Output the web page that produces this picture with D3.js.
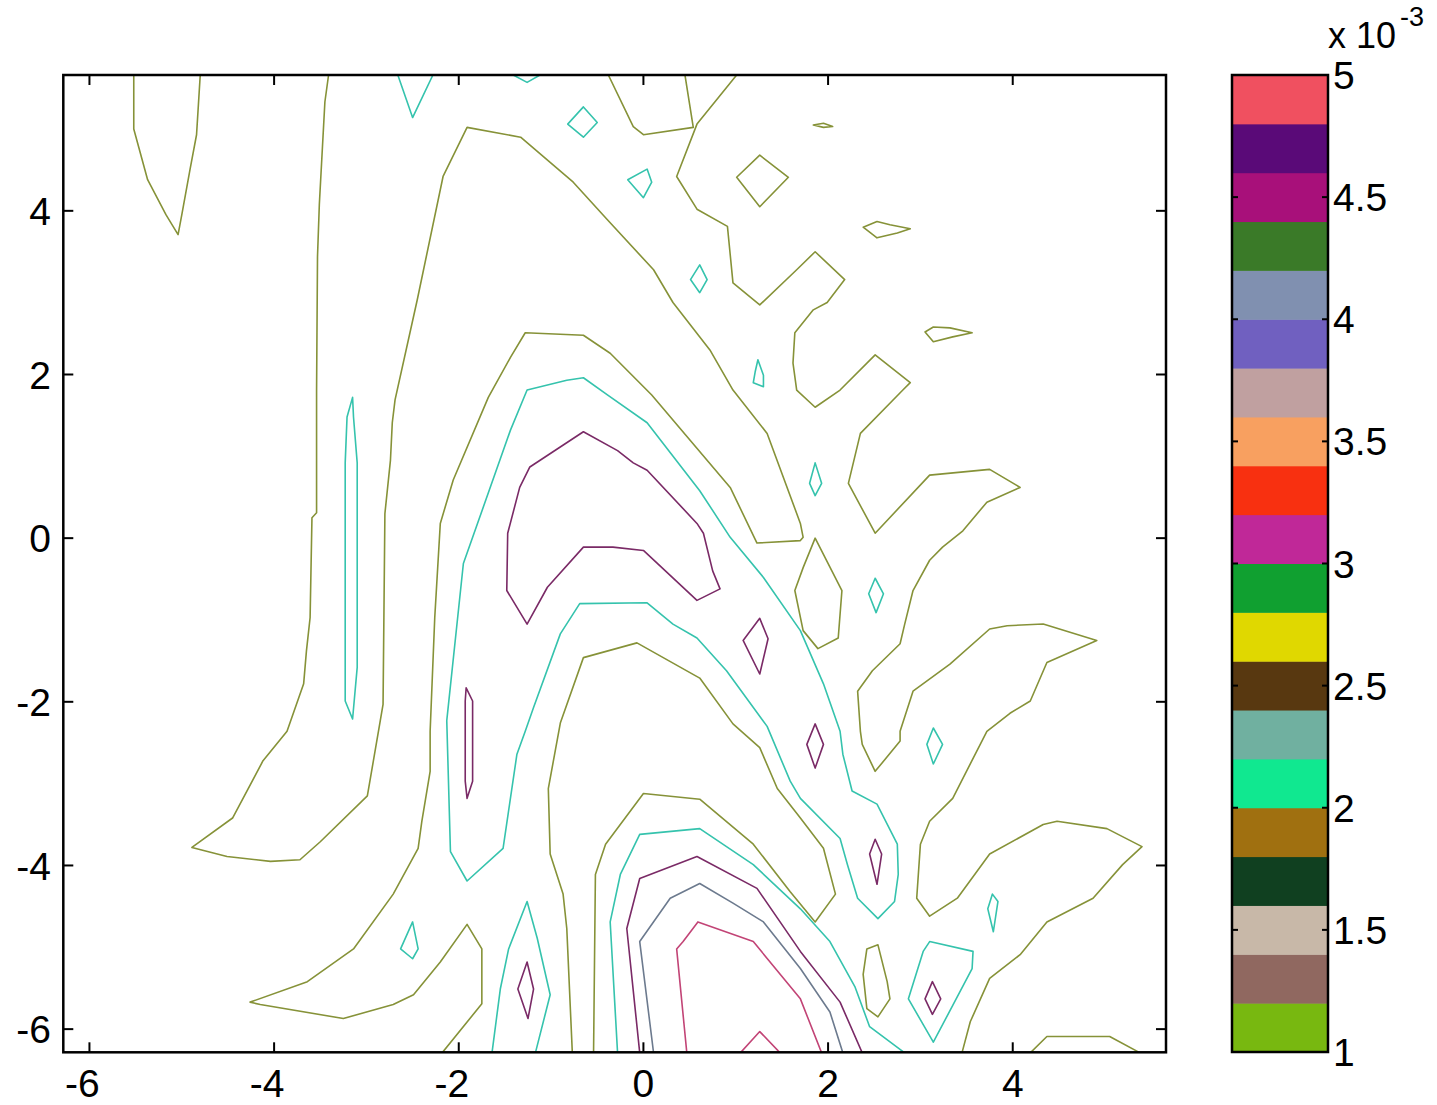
<!DOCTYPE html>
<html>
<head>
<meta charset="utf-8">
<script src="https://cdn.jsdelivr.net/npm/d3@7"></script>
<style>
  html, body { margin: 0; padding: 0; background: #ffffff; }
  svg { display: block; }
  text { font-family: "Liberation Sans", Arial, sans-serif; fill: #000; }
</style>
</head>
<body>
<svg id="chart" width="1437" height="1105"></svg>
<script>
// ---------------- data ----------------
const xDomain = [-2 * Math.PI, 5.66];
const yDomain = [-2 * Math.PI, 5.66];
const xTicks = [-6, -4, -2, 0, 2, 4];
const yTicks = [-6, -4, -2, 0, 2, 4];
const cbDomain = [1, 5];
const cbTicks = [1, 1.5, 2, 2.5, 3, 3.5, 4, 4.5, 5];
const cbExponent = "-3";
// colour bands from 1 (bottom) to 5 (top), step 0.2
const cbColors = ["#78b810","#906860","#c8b8a8","#104020","#a07010","#10e890","#70b0a0","#583810",
                  "#e0d800","#10a030","#c02898","#f83010","#f8a060","#c0a0a0","#7060c0","#8090b0",
                  "#3a7a28","#a8107a","#5a0a78","#f05060"];

// contour lines (data units), open = ends on the frame, loops = closed
const oliveOpen = [
  [[-5.52,5.66],[-5.52,5.00],[-5.37,4.38],[-5.17,3.95],[-5.04,3.71],[-5.00,3.95],[-4.91,4.51],[-4.84,4.93],[-4.80,5.66]],
  [[-3.41,5.66],[-3.45,5.33],[-3.51,4.08],[-3.53,3.44],[-3.54,1.81],[-3.54,0.31],[-3.59,0.25],[-3.61,-0.97],[-3.65,-1.38],[-3.68,-1.78],[-3.86,-2.36],[-4.12,-2.72],[-4.45,-3.42],[-4.89,-3.78],[-4.51,-3.89],[-4.04,-3.95],[-3.72,-3.93],[-3.50,-3.71],[-2.99,-3.15],[-2.85,-2.23],[-2.82,-2.03],[-2.80,0.30],[-2.74,0.95],[-2.72,1.41],[-2.69,1.69],[-2.45,2.91],[-2.17,4.42],[-1.91,5.02],[-1.33,4.90],[-0.76,4.35],[-0.39,3.89],[0.11,3.28],[0.32,2.88],[0.72,2.30],[0.97,1.81],[1.34,1.28],[1.70,0.18],[1.73,0.01],[1.70,-0.03],[1.23,-0.06],[0.94,0.62],[0.09,1.75],[-0.36,2.26],[-0.65,2.48],[-1.28,2.51],[-1.44,2.21],[-1.68,1.72],[-2.06,0.71],[-2.20,0.18],[-2.26,-0.97],[-2.31,-2.36],[-2.31,-2.85],[-2.40,-3.46],[-2.44,-3.79],[-2.71,-4.35],[-3.14,-5.02],[-3.64,-5.42],[-4.26,-5.67],[-4.15,-5.70],[-3.25,-5.87],[-2.71,-5.70],[-2.49,-5.58],[-2.20,-5.18],[-1.91,-4.72],[-1.75,-5.02],[-1.75,-5.69],[-2.18,-6.29]],
  [[1.01,5.66],[0.58,5.06],[0.36,4.42],[0.58,4.02],[0.91,3.81],[0.97,3.12],[1.26,2.85],[1.66,3.28],[1.86,3.50],[2.18,3.16],[1.99,2.88],[1.84,2.79],[1.64,2.51],[1.62,2.14],[1.66,1.81],[1.86,1.60],[2.13,1.81],[2.51,2.24],[2.89,1.90],[2.81,1.81],[2.35,1.28],[2.22,0.67],[2.51,0.06],[3.10,0.77],[3.75,0.84],[4.08,0.62],[3.72,0.44],[3.46,0.09],[3.24,-0.11],[3.10,-0.27],[2.92,-0.64],[2.83,-1.05],[2.78,-1.29],[2.48,-1.62],[2.32,-1.87],[2.35,-2.36],[2.37,-2.52],[2.51,-2.85],[2.78,-2.48],[2.78,-2.36],[2.92,-1.87],[3.32,-1.54],[3.75,-1.11],[3.94,-1.07],[4.33,-1.05],[4.91,-1.25],[4.37,-1.52],[4.19,-1.99],[3.97,-2.14],[3.72,-2.36],[3.35,-3.18],[3.10,-3.46],[3.00,-3.74],[2.96,-4.40],[3.10,-4.62],[3.40,-4.40],[3.75,-3.86],[4.33,-3.50],[4.48,-3.46],[5.02,-3.55],[5.40,-3.77],[5.19,-3.99],[4.87,-4.40],[4.37,-4.69],[4.08,-5.09],[3.75,-5.38],[3.54,-5.91],[3.45,-6.29]],
  [[-0.38,5.66],[-0.11,5.03],[0.00,4.93],[0.54,5.02],[0.45,5.66]],
  [[-0.77,-6.29],[-0.83,-4.77],[-0.87,-4.35],[-1.01,-3.86],[-1.03,-3.06],[-0.90,-2.26],[-0.65,-1.46],[-0.07,-1.28],[0.61,-1.71],[0.97,-2.27],[1.26,-2.56],[1.45,-3.06],[1.70,-3.42],[1.95,-3.79],[2.08,-4.35],[1.86,-4.69],[1.59,-4.32],[1.19,-3.74],[0.61,-3.19],[0.00,-3.12],[-0.41,-3.74],[-0.52,-4.11],[-0.54,-6.29]],
  [[4.19,-6.29],[4.37,-6.09],[5.05,-6.09],[5.38,-6.29]]
];
const oliveLoops = [
  [[1.01,4.41],[1.26,4.68],[1.57,4.41],[1.26,4.05]],
  [[1.84,5.05],[1.95,5.07],[2.05,5.03],[1.95,5.02]],
  [[2.38,3.80],[2.53,3.87],[2.67,3.83],[2.89,3.78],[2.75,3.73],[2.53,3.67]],
  [[3.05,2.52],[3.14,2.58],[3.32,2.57],[3.56,2.51],[3.35,2.46],[3.14,2.40]],
  [[1.86,0.00],[2.15,-0.64],[2.11,-1.22],[1.89,-1.35],[1.73,-1.13],[1.64,-0.64],[1.73,-0.36]],
  [[2.42,-5.02],[2.54,-4.97],[2.64,-5.42],[2.67,-5.63],[2.54,-5.85],[2.42,-5.75],[2.38,-5.33]]
];
const cyanOpen = [
  [[-2.66,5.66],[-2.50,5.14],[-2.28,5.66]],
  [[-1.41,5.66],[-1.26,5.57],[-1.12,5.66]],
  [[-1.64,-6.29],[-1.55,-5.51],[-1.46,-5.02],[-1.26,-4.44],[-1.15,-4.89],[-1.01,-5.58],[-1.17,-6.29]],
  [[-0.28,-6.29],[-0.36,-4.69],[-0.25,-4.11],[-0.04,-3.62],[0.61,-3.55],[1.19,-3.99],[1.70,-4.53],[2.02,-4.93],[2.29,-5.48],[2.45,-5.97],[2.83,-6.29]]
];
const cyanLoops = [
  [[-0.82,5.06],[-0.65,5.27],[-0.50,5.08],[-0.65,4.90]],
  [[-0.17,4.38],[0.04,4.51],[0.09,4.35],[0.00,4.16]],
  [[0.51,3.16],[0.61,3.34],[0.69,3.16],[0.61,3.00]],
  [[1.24,2.18],[1.30,1.99],[1.30,1.85],[1.19,1.90],[1.21,2.03]],
  [[-3.15,1.72],[-3.21,1.48],[-3.23,0.92],[-3.23,-1.99],[-3.15,-2.21],[-3.10,-1.58],[-3.10,0.92],[-3.14,1.48]],
  [[1.86,0.92],[1.80,0.67],[1.86,0.52],[1.93,0.67]],
  [[2.51,-0.49],[2.44,-0.68],[2.52,-0.91],[2.60,-0.68]],
  [[-2.13,-2.23],[-1.95,-0.31],[-1.44,1.32],[-1.26,1.81],[-0.83,1.93],[-0.65,1.96],[-0.39,1.75],[0.04,1.41],[0.61,0.58],[0.94,0.01],[1.30,-0.48],[1.70,-1.13],[1.95,-1.78],[2.13,-2.36],[2.16,-2.64],[2.26,-3.09],[2.53,-3.25],[2.75,-3.74],[2.76,-4.11],[2.72,-4.44],[2.54,-4.65],[2.32,-4.40],[2.21,-3.99],[2.13,-3.67],[1.70,-3.18],[1.59,-2.97],[1.34,-2.30],[0.90,-1.62],[0.58,-1.22],[0.32,-1.05],[0.04,-0.79],[-0.69,-0.80],[-0.90,-1.17],[-1.19,-2.07],[-1.28,-2.36],[-1.37,-2.64],[-1.52,-3.79],[-1.91,-4.19],[-2.09,-3.83]],
  [[-2.50,-4.69],[-2.63,-5.02],[-2.50,-5.14],[-2.44,-5.02]],
  [[3.10,-4.93],[3.57,-5.05],[3.56,-5.26],[3.14,-6.16],[2.87,-5.63],[3.03,-5.05]],
  [[3.78,-4.35],[3.84,-4.44],[3.79,-4.81],[3.73,-4.53]],
  [[3.14,-2.32],[3.24,-2.52],[3.14,-2.76],[3.07,-2.52]]
];
const purpleOpen = [
  [[-0.04,-6.29],[-0.18,-4.77],[-0.04,-4.16],[0.58,-3.89],[1.23,-4.28],[1.70,-5.05],[2.13,-5.67],[2.37,-6.29]]
];
const purpleLoops = [
  [[-0.65,1.30],[-1.23,0.87],[-1.34,0.62],[-1.47,0.06],[-1.48,-0.64],[-1.26,-1.05],[-1.04,-0.60],[-0.65,-0.11],[-0.33,-0.11],[0.00,-0.15],[0.58,-0.76],[0.83,-0.62],[0.75,-0.40],[0.65,0.06],[0.58,0.18],[0.04,0.83],[-0.11,0.92],[-0.28,1.07]],
  [[1.26,-0.98],[1.35,-1.23],[1.26,-1.66],[1.08,-1.25]],
  [[-1.92,-1.83],[-1.85,-1.99],[-1.85,-2.97],[-1.91,-3.18],[-1.93,-2.97],[-1.93,-1.99]],
  [[1.86,-2.27],[1.95,-2.52],[1.86,-2.81],[1.77,-2.52]],
  [[2.51,-3.68],[2.58,-3.86],[2.53,-4.23],[2.45,-3.86]],
  [[-1.26,-5.18],[-1.19,-5.51],[-1.25,-5.87],[-1.36,-5.51]],
  [[3.13,-5.42],[3.22,-5.63],[3.13,-5.82],[3.05,-5.63]]
];
const greyOpen = [
  [[0.11,-6.29],[-0.04,-4.93],[0.29,-4.40],[0.61,-4.22],[0.97,-4.46],[1.30,-4.69],[1.70,-5.26],[2.02,-5.79],[2.16,-6.29]]
];
const pinkOpen = [
  [[0.47,-6.29],[0.36,-5.02],[0.43,-4.93],[0.59,-4.69],[1.19,-4.93],[1.70,-5.63],[1.93,-6.29]],
  [[1.05,-6.29],[1.26,-6.03],[1.48,-6.29]]
];

const lineStyles = [
  {open: oliveOpen,  loops: oliveLoops,  color: "#869238"},
  {open: cyanOpen,   loops: cyanLoops,   color: "#35c3ad"},
  {open: purpleOpen, loops: purpleLoops, color: "#7a2a66"},
  {open: greyOpen,   loops: [],          color: "#6c7a8e"},
  {open: pinkOpen,   loops: [],          color: "#c24476"}
];

// ---------------- layout ----------------
const svg = d3.select("#chart");
const plot = {left: 63.3, right: 1166, top: 75, bottom: 1052.3};
const cb = {left: 1232, right: 1328, top: 75, bottom: 1052};

const x = d3.scaleLinear().domain(xDomain).range([plot.left, plot.right]);
const y = d3.scaleLinear().domain(yDomain).range([plot.bottom, plot.top]);

svg.append("defs").append("clipPath").attr("id", "clip")
  .append("rect").attr("x", plot.left).attr("y", plot.top)
  .attr("width", plot.right - plot.left).attr("height", plot.bottom - plot.top);

const g = svg.append("g").attr("clip-path", "url(#clip)");
const lineOpen = d3.line().x(d => x(d[0])).y(d => y(d[1]));
const lineClosed = d3.line().x(d => x(d[0])).y(d => y(d[1])).curve(d3.curveLinearClosed);

lineStyles.forEach(s => {
  g.selectAll(null).data(s.open).enter().append("path")
    .attr("d", lineOpen).attr("fill", "none").attr("stroke", s.color)
    .attr("stroke-width", 1.6).attr("stroke-linejoin", "round");
  g.selectAll(null).data(s.loops).enter().append("path")
    .attr("d", lineClosed).attr("fill", "none").attr("stroke", s.color)
    .attr("stroke-width", 1.6).attr("stroke-linejoin", "round");
});

// frame
svg.append("rect").attr("x", plot.left).attr("y", plot.top)
  .attr("width", plot.right - plot.left).attr("height", plot.bottom - plot.top)
  .attr("fill", "none").attr("stroke", "#000").attr("stroke-width", 2.5);

const tickLen = 10;
const fontSize = 39;
// x ticks (bottom and top, inward)
xTicks.forEach(t => {
  const px = x(t);
  svg.append("line").attr("x1", px).attr("x2", px).attr("y1", plot.bottom).attr("y2", plot.bottom - tickLen)
    .attr("stroke", "#000").attr("stroke-width", 2);
  svg.append("line").attr("x1", px).attr("x2", px).attr("y1", plot.top).attr("y2", plot.top + tickLen)
    .attr("stroke", "#000").attr("stroke-width", 2);
  svg.append("text").attr("x", px).attr("y", plot.bottom + 45)
    .attr("dx", t < 0 ? -7 : 0)
    .attr("text-anchor", "middle").attr("font-size", fontSize).text(t);
});
yTicks.forEach(t => {
  const py = y(t);
  svg.append("line").attr("x1", plot.left).attr("x2", plot.left + tickLen).attr("y1", py).attr("y2", py)
    .attr("stroke", "#000").attr("stroke-width", 2);
  svg.append("line").attr("x1", plot.right).attr("x2", plot.right - tickLen).attr("y1", py).attr("y2", py)
    .attr("stroke", "#000").attr("stroke-width", 2);
  svg.append("text").attr("x", 51).attr("y", py).attr("dy", "0.36em")
    .attr("text-anchor", "end").attr("font-size", fontSize).text(t);
});

// ---------------- colour bar ----------------
const cbY = d3.scaleLinear().domain(cbDomain).range([cb.bottom, cb.top]);
const step = (cbDomain[1] - cbDomain[0]) / cbColors.length;
svg.append("g").selectAll("rect").data(cbColors).enter().append("rect")
  .attr("x", cb.left).attr("width", cb.right - cb.left)
  .attr("y", (c, i) => cbY(cbDomain[0] + (i + 1) * step))
  .attr("height", (c, i) => cbY(cbDomain[0] + i * step) - cbY(cbDomain[0] + (i + 1) * step) + 0.5)
  .attr("fill", c => c);
svg.append("rect").attr("x", cb.left).attr("y", cb.top)
  .attr("width", cb.right - cb.left).attr("height", cb.bottom - cb.top)
  .attr("fill", "none").attr("stroke", "#000").attr("stroke-width", 2.5);
cbTicks.forEach(t => {
  const py = cbY(t);
  svg.append("line").attr("x1", cb.left).attr("x2", cb.left + 6).attr("y1", py).attr("y2", py)
    .attr("stroke", "#000").attr("stroke-width", 2);
  svg.append("line").attr("x1", cb.right).attr("x2", cb.right - 6).attr("y1", py).attr("y2", py)
    .attr("stroke", "#000").attr("stroke-width", 2);
  svg.append("text").attr("x", cb.right + 5).attr("y", py).attr("dy", "0.36em")
    .attr("text-anchor", "start").attr("font-size", fontSize).text(t);
});
const expo = svg.append("text").attr("x", cb.right).attr("y", 48).attr("font-size", 36);
expo.append("tspan").text("x 10");
expo.append("tspan").attr("dx", 4).attr("dy", -22).attr("font-size", 27).text(cbExponent);
</script>
</body>
</html>
